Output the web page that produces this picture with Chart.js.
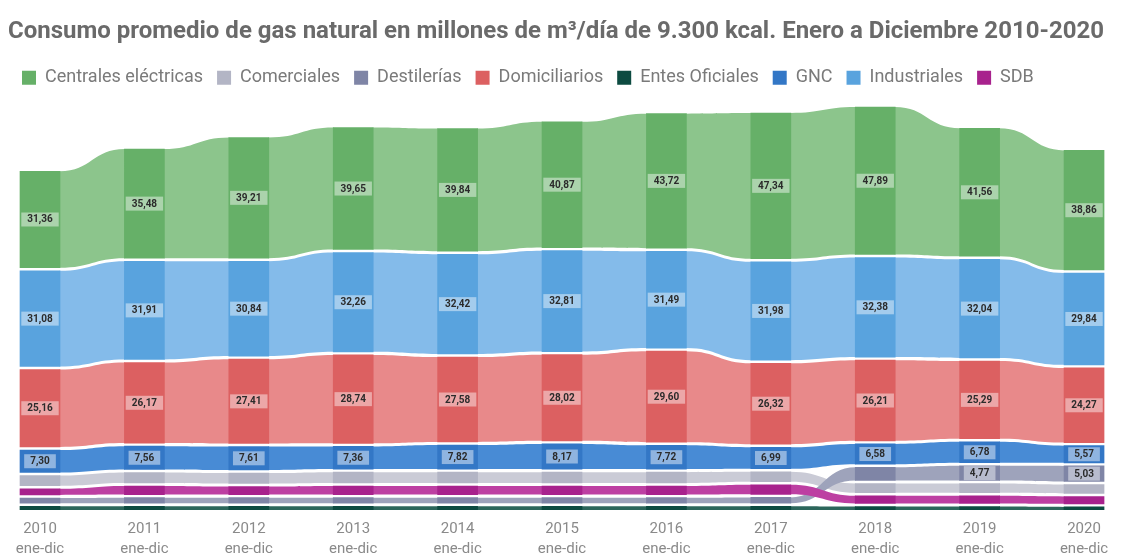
<!DOCTYPE html>
<html>
<head>
<meta charset="utf-8">
<script src="https://cdn.jsdelivr.net/npm/chart.js@4.4.1/dist/chart.umd.min.js"></script>
<style>
  html, body { margin: 0; padding: 0; background: #ffffff; }
  #wrap { width: 1122px; height: 558px; }
</style>
</head>
<body>
<div id="wrap"><canvas id="c" width="1122" height="558"></canvas></div>
<script>
// ---- Data ----
const years = ['2010','2011','2012','2013','2014','2015','2016','2017','2018','2019','2020'];
const periodLabel = 'ene-dic';
const seriesNames = ['Centrales eléctricas','Comerciales','Destilerías','Domiciliarios','Entes Oficiales','GNC','Industriales','SDB'];

const centrales     = [31.36, 35.48, 39.21, 39.65, 39.84, 40.87, 43.72, 47.34, 47.89, 41.56, 38.86];
const comerciales   = [3.3, 3.4, 3.4, 3.5, 3.5, 3.5, 3.5, 3.2, 3.0, 3.0, 2.9];
const destilerias   = [1.7, 1.8, 1.8, 1.8, 1.8, 1.8, 1.8, 1.9, 4.3, 4.77, 5.03];
const domiciliarios = [25.16, 26.17, 27.41, 28.74, 27.58, 28.02, 29.60, 26.32, 26.21, 25.29, 24.27];
const entes         = [1.2, 1.2, 1.2, 1.2, 1.2, 1.2, 1.2, 1.2, 1.1, 1.1, 1.0];
const gnc           = [7.30, 7.56, 7.61, 7.36, 7.82, 8.17, 7.72, 6.99, 6.58, 6.78, 5.57];
const industriales  = [31.08, 31.91, 30.84, 32.26, 32.42, 32.81, 31.49, 31.98, 32.38, 32.04, 29.84];
const sdb           = [2.0, 2.8, 2.6, 2.8, 2.8, 2.8, 2.8, 3.1, 2.5, 2.5, 2.4];

const seriesValues = [centrales, comerciales, destilerias, domiciliarios, entes, gnc, industriales, sdb];

// ---- Styles ----
const columnColors = ['#66b068','#b3b5c5','#7f85a6','#dc6061','#0d4b41','#3377c6','#59a3de','#a8228d'];
const ribbonColors = ['#8cc58c','#cacbd6','#9ea3bb','#e8898a','#2c665b','#488bd5','#84bbea','#bd3fa2'];
const GAP = 1.0;          // white separation between ribbons (value units)
const LABEL_MIN = 4.5;    // smallest value that gets a data label

// ---- Build floating ranges, ordered by value within each column (ribbon chart) ----
const ranges = seriesValues.map(() => []);
years.forEach((y, j) => {
  const order = seriesValues.map((v, s) => s).sort((a, b) => seriesValues[a][j] - seriesValues[b][j]);
  let base = 0;
  order.forEach((s) => {
    const v = seriesValues[s][j];
    ranges[s][j] = { x: j, y: [base, base + v] };
    base += v + GAP;
  });
});

const fmt = v => v.toFixed(2).replace('.', ',');

const ribbonPlugin = {
  id: 'ribbons',
  beforeDatasetsDraw(chart) {
    const ctx = chart.ctx;
    ctx.save();
    chart.data.datasets.forEach((ds, d) => {
      const meta = chart.getDatasetMeta(d);
      for (let i = 0; i < meta.data.length - 1; i++) {
        const a = meta.data[i], b = meta.data[i + 1];
        const aTop = Math.min(a.y, a.base), aBot = Math.max(a.y, a.base);
        const bTop = Math.min(b.y, b.base), bBot = Math.max(b.y, b.base);
        const x1 = a.x + a.width / 2, x2 = b.x - b.width / 2;
        const m = (x1 + x2) / 2;
        ctx.beginPath();
        ctx.moveTo(x1 - 0.5, aTop);
        ctx.bezierCurveTo(m, aTop, m, bTop, x2 + 0.5, bTop);
        ctx.lineTo(x2 + 0.5, bBot);
        ctx.bezierCurveTo(m, bBot, m, aBot, x1 - 0.5, aBot);
        ctx.closePath();
        ctx.fillStyle = ribbonColors[d];
        ctx.fill();
      }
    });
    ctx.restore();
  }
};

const labelPlugin = {
  id: 'barLabels',
  afterDatasetsDraw(chart) {
    const ctx = chart.ctx;
    ctx.save();
    ctx.font = 'bold 10px Roboto, "DejaVu Sans", sans-serif';
    ctx.textAlign = 'center';
    ctx.textBaseline = 'middle';
    chart.data.datasets.forEach((ds, d) => {
      const meta = chart.getDatasetMeta(d);
      meta.data.forEach((el, j) => {
        const v = seriesValues[d][j];
        if (v < LABEL_MIN) return;
        const cy = (el.y + el.base) / 2;
        const txt = fmt(v);
        const w = ctx.measureText(txt).width + 12;
        ctx.fillStyle = 'rgba(255,255,255,0.45)';
        ctx.fillRect(el.x - w / 2, cy - 7, w, 14);
        ctx.fillStyle = '#2b2b2b';
        ctx.fillText(txt, el.x, cy + 0.5);
      });
    });
    ctx.restore();
  }
};

new Chart(document.getElementById('c'), {
  type: 'bar',
  data: {
    datasets: seriesNames.map((name, s) => ({
      label: name,
      data: ranges[s],
      backgroundColor: columnColors[s],
      borderWidth: 0,
      barThickness: 40,
      grouped: false
    }))
  },
  options: {
    responsive: false,
    animation: false,
    layout: { padding: { left: 8, right: 8, top: 4, bottom: 0 } },
    plugins: {
      title: {
        display: true,
        text: 'Consumo promedio de gas natural en millones de m³/día de 9.300 kcal. Enero a Diciembre 2010-2020',
        align: 'start',
        color: '#6a6a6a',
        font: { family: 'Roboto, sans-serif', size: 24, weight: 'bold' },
        padding: { top: 14, bottom: 8 }
      },
      legend: {
        display: true,
        align: 'start',
        labels: {
          color: '#7a7a7a',
          font: { family: 'Roboto, sans-serif', size: 18 },
          boxWidth: 14,
          boxHeight: 14,
          padding: 14
        }
      },
      tooltip: { enabled: false }
    },
    scales: {
      x: {
        type: 'linear',
        offset: false,
        min: -0.3065,
        max: 10.287,
        grid: { display: false, drawTicks: false, tickLength: 0 },
        border: { display: false },
        afterFit(scale) { scale.height = 48; },
        ticks: {
          stepSize: 1,
          includeBounds: false,
          autoSkip: false,
          maxRotation: 0,
          color: '#8a8a8a',
          font: { family: 'Roboto, sans-serif', size: 15, lineHeight: 1.35 },
          padding: 9,
          callback: v => Number.isInteger(v) && years[v] ? [years[v], periodLabel] : ''
        }
      },
      y: {
        display: false,
        min: 0,
        max: 134.3
      }
    }
  },
  plugins: [ribbonPlugin, labelPlugin]
});
</script>
</body>
</html>
